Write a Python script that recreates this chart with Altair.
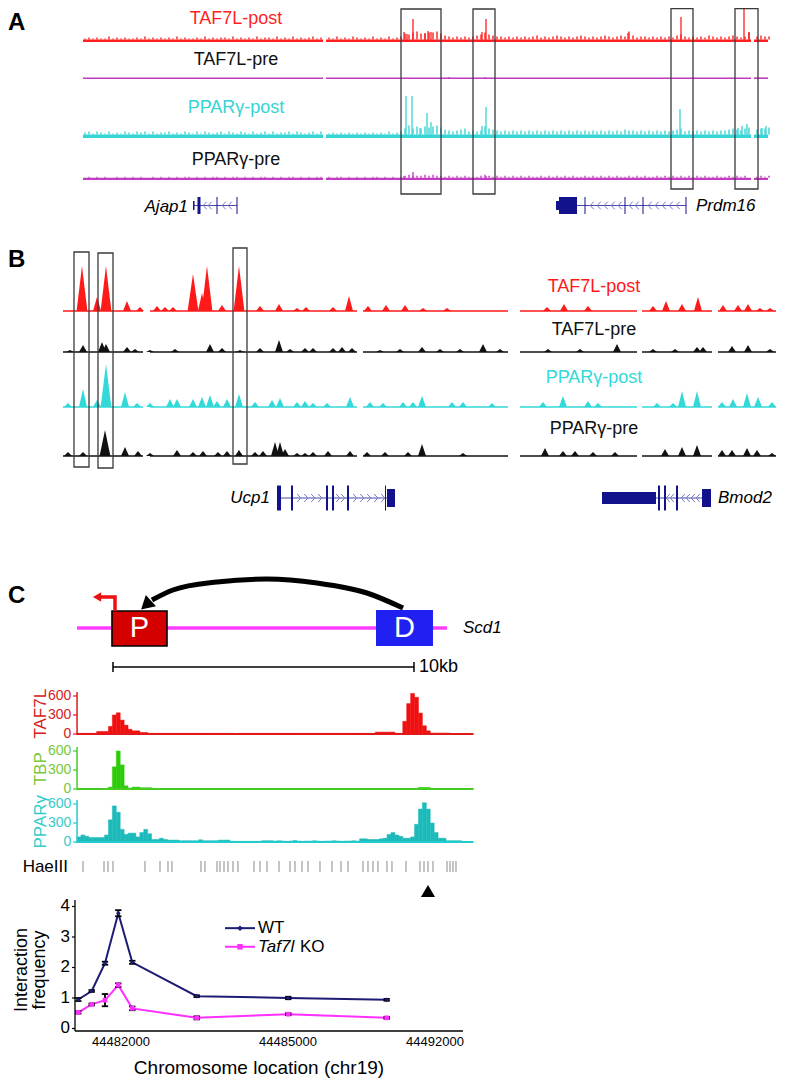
import altair as alt
import pandas as pd

FONT = "Liberation Sans"

# ============================== DATA ==============================
# ---------- Panel A : tracks between Ajap1 and Prdm16 (kb from left end of tracks) ----------
A_TRACKS = ["TAF7L-post", "TAF7L-pre", "PPARγ-post", "PPARγ-pre"]
A_SEGMENTS_START = [0, 486, 1342]
A_SEGMENTS_END = [480, 1336, 1370]
A_NOISE_STEP_KB = 8
A_NOISE = {
    "TAF7L-post": ("1212113121" "2112131212" "1213121121" "3121221312" "1213122131" "2131212312"
                   "0213121321" "2131213123" "6578667786" "4323232345" "7543323232" "3234232343"
                   "2323432323" "4323438423" "3232323245" "3232324323" "2343237034" "33"),
    "TAF7L-pre": "",
    "PPARγ-post": ("2313213121" "3213231312" "2312132131" "3212313213" "2131231312" "2313212313"
                   "0121212121" "2121213123" "6968687897" "5434563434" "8654343434" "3434343434"
                   "3434343434" "3434354434" "3434343456" "3434343434" "4565467056" "67"),
    "PPARγ-pre": ("0101010010" "1010100101" "0101011010" "1011010110" "1010110101" "0110101011"
                  "0101101010" "1011010101" "2322232322" "1212121112" "3212121212" "1211212121"
                  "2121121212" "1212112121" "2112121212" "1212121121" "1212120012" "12"),
}
A_PEAKS_POS = {
    "TAF7L-post": [642, 648, 660, 684, 690, 696, 798, 806, 1090, 1196, 1322, 1332],
    "TAF7L-pre": [732, 804],
    "PPARγ-post": [646, 658, 674, 688, 696, 798, 806, 1194, 1310, 1318, 1328, 1358, 1366],
    "PPARγ-pre": [642, 660, 806],
}
A_PEAKS_H = {
    "TAF7L-post": [10, 8, 23, 9, 11, 10, 10, 23, 9, 25, 33, 10],
    "TAF7L-pre": [2, 2],
    "PPARγ-post": [42, 42, 10, 25, 16, 12, 31, 29, 10, 12, 14, 10, 12],
    "PPARγ-pre": [4, 8, 4],
}
A_BOX_START = [636, 780, 1176, 1304]
A_BOX_END = [716, 824, 1220, 1350]
A_GENE_START = [220, 954]
A_GENE_END = [308, 1206]
A_EXON_START = [220, 229, 267, 307, 946, 952, 1003, 1083, 1119, 1205]
A_EXON_END = [223, 235, 269, 309, 952, 988, 1005, 1085, 1121, 1207]
A_EXON_KIND = ["thin", "thick", "thick", "thick", "thin", "thick", "thick", "thick", "thick", "thick"]
A_CHEVRON_POS = [244, 254, 282, 294, 1018, 1032, 1046, 1060, 1074, 1096, 1108, 1134, 1148, 1162, 1176, 1190]
A_GENE_LABEL = ["Ajap1", "Prdm16"]
A_GENE_LABEL_POS = [210, 1226]

# ---------- Panel B : Ucp1 / Bmod2 locus (kb from left end of tracks) ----------
B_TRACKS = ["TAF7L-post", "TAF7L-pre", "PPARγ-post", "PPARγ-pre"]
B_SEGMENTS_START = [0.05, 4.4, 15.05, 22.9, 29.0, 32.8]
B_SEGMENTS_END = [4.05, 14.75, 22.3, 28.75, 32.5, 35.7]
B_PEAKS_POS = {
    "TAF7L-post": [1.0, 1.75, 2.2, 3.25, 3.9, 4.75, 5.15, 5.55, 6.55, 7.0, 7.25, 8.0, 8.85, 9.9, 10.85,
                   11.75, 12.2, 13.55, 14.35, 15.3, 16.2, 17.15, 18.05, 19.25, 24.25, 25.1, 26.3, 29.55,
                   30.2, 31.0, 31.8, 33.05, 33.8, 34.3, 34.9, 35.4],
    "TAF7L-pre": [0.4, 1.05, 2.0, 2.2, 3.25, 3.65, 4.4, 5.65, 7.4, 8.0, 8.9, 9.9, 10.85, 11.4, 12.15, 12.55,
                  13.55, 14.0, 14.5, 15.9, 16.9, 18.0, 18.9, 19.9, 21.05, 21.9, 24.3, 25.9, 27.75, 29.55,
                  30.65, 31.75, 32.05, 33.5, 34.3, 35.4],
    "PPARγ-post": [0.3, 1.05, 1.75, 2.2, 3.15, 3.75, 4.4, 5.4, 5.75, 6.55, 7.0, 7.4, 7.75, 8.25, 8.85, 9.65,
                   10.5, 10.9, 11.75, 12.15, 12.55, 13.25, 14.4, 15.4, 16.05, 17.05, 17.55, 18.0, 19.5, 20.05,
                   21.5, 24.05, 25.05, 26.3, 26.8, 29.75, 30.55, 31.0, 31.75, 33.0, 33.55, 34.25, 34.8, 35.5],
    "PPARγ-pre": [0.3, 1.05, 2.15, 3.15, 3.8, 4.4, 5.75, 6.55, 7.05, 7.8, 8.25, 8.85, 9.65, 10.05, 10.65,
                  10.9, 11.15, 11.75, 12.15, 12.55, 13.3, 14.4, 15.25, 16.15, 17.3, 18.0, 20.05, 24.15, 25.05,
                  25.65, 26.55, 27.65, 30.15, 31.0, 31.75, 33.0, 33.5, 34.25, 34.75, 35.5],
}
B_PEAKS_H = {
    "TAF7L-post": [45, 14, 45, 10, 4, 5, 4, 4, 37, 18, 45, 6, 45, 5, 7, 3, 4, 4, 15, 5, 6, 6, 3, 3, 4, 7, 5,
                   5, 10, 7, 14, 6, 6, 7, 3, 3],
    "TAF7L-pre": [2, 7, 10, 8, 5, 3, 2, 3, 8, 4, 2, 4, 12, 3, 4, 4, 4, 5, 4, 2, 3, 5, 3, 3, 8, 3, 3, 3, 8, 3,
                  3, 5, 5, 6, 7, 3],
    "PPARγ-post": [4, 18, 7, 43, 15, 4, 4, 8, 8, 8, 10, 12, 6, 8, 13, 5, 7, 9, 5, 6, 4, 4, 10, 5, 4, 5, 5,
                   11, 5, 5, 4, 5, 11, 6, 4, 4, 4, 16, 16, 5, 8, 14, 10, 5],
    "PPARγ-pre": [4, 4, 26, 9, 5, 3, 6, 4, 5, 4, 5, 6, 4, 5, 14, 14, 7, 3, 3, 4, 5, 5, 4, 4, 4, 12, 3, 8, 5,
                  5, 4, 4, 7, 9, 11, 6, 6, 8, 6, 3],
}
B_BOX_START = [0.6, 1.8, 8.55]
B_BOX_END = [1.35, 2.55, 9.25]
B_GENE_START = [10.8, 29.7]
B_GENE_END = [16.65, 32.45]
B_EXON_START = [10.75, 11.45, 13.2, 13.5, 14.25, 16.15, 16.25, 27.0, 29.8, 30.1, 30.7, 32.0]
B_EXON_END = [10.95, 11.55, 13.3, 13.6, 14.35, 16.2, 16.65, 29.7, 29.9, 30.2, 30.8, 32.45]
B_EXON_KIND = ["tall", "tall", "tall", "tall", "tall", "tall", "block", "utr", "tall", "tall", "tall", "block"]
B_CHEVRON_RIGHT = [11.85, 12.2, 12.55, 12.9, 13.8, 14.05, 14.65, 15.0, 15.35, 15.7, 16.05]
B_CHEVRON_LEFT = [30.3, 30.5, 31.05, 31.3, 31.55, 31.8]
B_GENE_LABEL = ["Ucp1", "Bmod2"]
B_GENE_LABEL_POS = [10.4, 32.8]

# ---------- Panel C : Scd1 locus, chr19 (bp) ----------
C_LOCUS = [44480599, 44492383]
C_P_BOX = [44481713, 44483465]
C_D_BOX = [44490122, 44491937]
C_TSS = [44481809, 44481331]
C_TSS_HEAD = 44481236
C_LOOP_G = [44482987, 44483656, 44485058, 44486650, 44488243, 44489835, 44490982]
C_LOOP_HEAD = 44482796
C_SCALEBAR = [44481745, 44491332]
C_SCD1_POS = 44492893
C_SCALE_LABEL_POS = 44491491

C_BIN_START = 44480600
C_BIN_BP = 125
C_TAF7L = [10, 10, 10, 10, 10, 40, 40, 40, 120, 300, 335, 220, 140, 75, 50, 50, 25, 25,
           10, 10, 10, 10, 10, 10, 10, 10, 10, 10, 10, 10, 10, 10, 10, 10, 10, 10, 10, 10, 10, 10,
           0, 10, 10, 10, 10, 10, 10, 10, 10, 10, 10, 10, 10, 10, 10, 10, 10, 10, 10, 10, 10,
           10, 10, 10, 10, 10, 10, 10, 10, 10, 10, 10, 10, 10, 10, 10,
           30, 30, 30, 30, 30, 10, 10, 200, 480, 640, 580, 330, 130, 50,
           15, 15, 15, 15, 15, 0, 0, 0, 0, 0, 0]
C_TBP = [0, 0, 0, 0, 0, 0, 0, 0, 30, 350, 600, 380, 50, 10, 30, 30, 20, 20, 20, 10,
         3, 3, 3, 3, 3, 3, 3, 3, 3, 3, 3, 3, 3, 3, 3, 3, 3, 3, 3, 3, 3, 3, 3, 3, 3, 3, 3, 3, 3, 3,
         3, 3, 3, 3, 3, 3, 3, 3, 3, 3, 3, 3, 3, 3, 3, 3, 3, 3, 3, 3, 3, 3, 3, 3, 3, 3, 3, 3, 3, 3,
         3, 3, 3, 3, 3, 3, 3, 25, 25, 25, 3, 3, 3, 3, 3, 3, 3, 3, 3, 3, 3]
C_PPARG = [80, 110, 90, 70, 70, 70, 70, 110, 350, 570, 470, 200, 120, 140, 140, 80, 150, 200, 130,
           40, 40, 60, 40, 30, 30, 30, 20, 20, 20, 20, 20, 35, 20, 20, 20, 20, 30, 30, 30,
           10, 10, 10, 10, 10, 10, 10, 10, 20, 20, 20,
           15, 20, 15, 10, 15, 25, 15, 10, 15, 15, 20, 15, 10, 15, 15, 20, 15, 10, 15, 15, 20, 15,
           50, 50, 40, 40, 40, 50, 60, 120, 150, 110, 90, 60, 60, 80, 280, 520, 620, 520, 300, 150,
           60, 60, 20, 20, 20, 20, 0, 0, 0]
C_TRACK_END = C_BIN_START + C_BIN_BP * 101
C_TRACK_TICKS = [0, 300, 600]

HAEIII_SITES = [44480790, 44481459, 44481586, 44481745, 44482764, 44483242, 44483497, 44483624,
                44484548, 44484675, 44485058, 44485153, 44485281, 44485408, 44485567, 44485726,
                44486236, 44486427, 44486650, 44487032, 44487383, 44487542, 44487765, 44487956,
                44488338, 44488720, 44489007, 44489230, 44489708, 44489867, 44490026, 44490185,
                44490472, 44490631, 44491077, 44491523, 44491651, 44491778, 44491937, 44492383,
                44492479, 44492574, 44492670]
ANCHOR_POS = 44491778

LC_POS = [44480640, 44481067, 44481490, 44481914, 44482360, 44484411, 44487328, 44490462]
WT = [0.95, 1.23, 2.14, 3.78, 2.17, 1.06, 1.00, 0.94]
WT_ERR = [0.05, 0.03, 0.05, 0.10, 0.05, 0.03, 0.04, 0.03]
KO = [0.53, 0.79, 0.93, 1.42, 0.66, 0.35, 0.47, 0.35]
KO_ERR = [0.04, 0.03, 0.20, 0.06, 0.06, 0.05, 0.03, 0.03]
LC_Y_TICKS = [0, 1, 2, 3, 4]
LC_X_TICKS = [44482000, 44487320, 44492000]
LC_X_TICK_LABELS = ["44482000", "44485000", "44492000"]

# ============================== LAYOUT / STYLE ==============================
W = 769
A_H, B_H, CD_H, CT_H, HAE_H, LC_H = 214, 298, 172, 43, 57, 131
XA = alt.Scale(domain=[-150, 1388], nice=False, zero=False)
XB = alt.Scale(domain=[-2.7, 35.75], nice=False, zero=False)
XC_DOM = [44478401, 44502894]
XC = alt.Scale(domain=XC_DOM, nice=False, zero=False)
YA = alt.Scale(domain=[0, A_H], reverse=True, nice=False, zero=False)
YB = alt.Scale(domain=[0, B_H], reverse=True, nice=False, zero=False)
YD = alt.Scale(domain=[0, CD_H], reverse=True, nice=False, zero=False)
YH = alt.Scale(domain=[0, HAE_H], reverse=True, nice=False, zero=False)
YT_DOM = [-15.8, 663.2]
YT = alt.Scale(domain=YT_DOM, nice=False, zero=False)
LC_YDOM = [-0.082, 4.213]
YL = alt.Scale(domain=LC_YDOM, nice=False, zero=False)

RED, MAG, CYAN, BLACK = "#ff1f1f", "#c23ac2", "#36d4d4", "#111111"
NAVY, CHEV = "#12128c", "#7a7acb"
A_BASE = {"TAF7L-post": 34, "TAF7L-pre": 71, "PPARγ-post": 130, "PPARγ-pre": 172}
A_BAND = {"TAF7L-post": 2.5, "TAF7L-pre": 1.6, "PPARγ-post": 3.5, "PPARγ-pre": 2.2}
A_LABEL_Y = {"TAF7L-post": 11, "TAF7L-pre": 52, "PPARγ-post": 100, "PPARγ-pre": 152}
A_COLOR = {"TAF7L-post": RED, "TAF7L-pre": MAG, "PPARγ-post": CYAN, "PPARγ-pre": MAG}
A_TEXT_COLOR = {"TAF7L-post": RED, "TAF7L-pre": BLACK, "PPARγ-post": CYAN, "PPARγ-pre": BLACK}
A_LABEL_X = 306
A_BOX_TOP = [1, 1, 0.7, 0.7]
A_BOX_BOTTOM = [186, 186, 181, 181]
A_GENE_Y = 197.5
A_EXON_HALF = {"thin": 4.5, "thick": 8.5}

B_BASE = {"TAF7L-post": 89, "TAF7L-pre": 130, "PPARγ-post": 185, "PPARγ-pre": 234}
B_LABEL_Y = {"TAF7L-post": 65, "TAF7L-pre": 108, "PPARγ-post": 156, "PPARγ-pre": 207}
B_COLOR = {"TAF7L-post": "#ff1a1a", "TAF7L-pre": BLACK, "PPARγ-post": "#33d9d9", "PPARγ-pre": BLACK}
B_TEXT_COLOR = {"TAF7L-post": "#ff1a1a", "TAF7L-pre": BLACK, "PPARγ-post": "#33d9d9", "PPARγ-pre": BLACK}
B_LABEL_X = 26.6
B_BOX_TOP = [30, 31, 26]
B_BOX_BOTTOM = [245, 246, 242]
B_GENE_Y = 276
B_EXON_HALF = {"tall": 12.5, "block": 9, "utr": 6}

# hand-drawn axis geometry for panel C (genomic x positions left of the tracks)
C_TICK_X0 = 44480471
C_TICK_LABEL_X = 44480420
C_TITLE_X = 44479452
C_TITLE_V = 320
LC_AXIS_X = 44480535
LC_AXIS_X_END = 44492892
LC_TICK_X0 = 44480439
LC_TICK_LABEL_X = 44480376
LC_YTITLE_X = [44478847, 44479420]
LC_YTITLE_V = 1.92
LC_XLABEL_V = -0.44
LC_XTITLE_X = 44486395
LC_XTITLE_V = -1.30


def X(f, sc):
    return alt.X(f"{f}:Q", scale=sc, axis=None)


def Y(f, sc):
    return alt.Y(f"{f}:Q", scale=sc, axis=None, stack=None)


COL = alt.Color("c:N", scale=None)


def text_layer(rows, xs, ys, **kw):
    kw.setdefault("baseline", "middle")
    return alt.Chart(pd.DataFrame(rows)).mark_text(font=FONT, **kw).encode(
        x=X("x", xs), y=Y("y", ys), text="t:N", color=COL)


CHEV_LEFT = "M0.45,-1L-0.45,0L0.45,1"
CHEV_RIGHT = "M-0.45,-1L0.45,0L-0.45,1"

# ============================== PANEL A ==============================
a_band, a_noise, a_peak, a_lab = [], [], [], []
for t in A_TRACKS:
    base, band, col = A_BASE[t], A_BAND[t], A_COLOR[t]
    for s, e in zip(A_SEGMENTS_START, A_SEGMENTS_END):
        a_band.append({"x0": s, "x1": e, "y0": base - band, "y1": base, "c": col})
    for i, ch in enumerate(A_NOISE[t]):
        h = int(ch)
        if h:
            a_noise.append({"x": i * A_NOISE_STEP_KB + A_NOISE_STEP_KB / 2, "y0": base - band,
                            "y1": base - band - h, "c": col})
    for p, h in zip(A_PEAKS_POS[t], A_PEAKS_H[t]):
        a_peak.append({"x": p, "y0": base - band / 2, "y1": base - h, "c": col})
    a_lab.append({"x": A_LABEL_X, "y": A_LABEL_Y[t], "t": t, "c": A_TEXT_COLOR[t]})

a_boxes = pd.DataFrame({"x0": A_BOX_START, "x1": A_BOX_END, "y0": A_BOX_TOP, "y1": A_BOX_BOTTOM})
a_exons = pd.DataFrame({"x0": A_EXON_START, "x1": A_EXON_END,
                        "y0": [A_GENE_Y - A_EXON_HALF[k] for k in A_EXON_KIND],
                        "y1": [A_GENE_Y + A_EXON_HALF[k] for k in A_EXON_KIND]})
a_introns = pd.DataFrame({"x0": A_GENE_START, "x1": A_GENE_END, "y": [A_GENE_Y] * 2})
a_chev = pd.DataFrame({"x": A_CHEVRON_POS, "y": [A_GENE_Y] * len(A_CHEVRON_POS)})

panelA = alt.layer(
    alt.Chart(pd.DataFrame(a_band)).mark_rect().encode(x=X("x0", XA), x2="x1", y=Y("y0", YA), y2="y1", color=COL),
    alt.Chart(pd.DataFrame(a_noise)).mark_rule(strokeWidth=1.4).encode(x=X("x", XA), y=Y("y0", YA), y2="y1", color=COL),
    alt.Chart(pd.DataFrame(a_peak)).mark_rule(strokeWidth=1.3).encode(x=X("x", XA), y=Y("y0", YA), y2="y1", color=COL),
    text_layer(a_lab, XA, YA, fontSize=18, align="center"),
    text_layer([{"x": -150, "y": 15, "t": "A", "c": "#000"}], XA, YA, fontSize=24, fontWeight="bold", align="left"),
    alt.Chart(a_boxes).mark_rect(fillOpacity=0, stroke="#3a3a3a", strokeWidth=1.3).encode(
        x=X("x0", XA), x2="x1", y=Y("y0", YA), y2="y1"),
    alt.Chart(a_introns).mark_rule(color="#4a4aa8", strokeWidth=1).encode(x=X("x0", XA), x2="x1", y=Y("y", YA)),
    alt.Chart(a_chev).mark_point(shape=CHEV_LEFT, filled=False, color=CHEV, strokeWidth=1, size=60, opacity=1).encode(
        x=X("x", XA), y=Y("y", YA)),
    alt.Chart(a_exons).mark_rect(color=NAVY).encode(x=X("x0", XA), x2="x1", y=Y("y0", YA), y2="y1"),
    text_layer([{"x": A_GENE_LABEL_POS[0], "y": A_GENE_Y + 1, "t": A_GENE_LABEL[0], "c": "#000"}], XA, YA,
               fontSize=17, fontStyle="italic", align="right"),
    text_layer([{"x": A_GENE_LABEL_POS[1], "y": A_GENE_Y, "t": A_GENE_LABEL[1], "c": "#000"}], XA, YA,
               fontSize=17, fontStyle="italic", align="left"),
).properties(width=W, height=A_H)

# ============================== PANEL B ==============================
b_base, b_area, b_lab = [], [], []
pid = 0
for t in B_TRACKS:
    base, col = B_BASE[t], B_COLOR[t]
    for s, e in zip(B_SEGMENTS_START, B_SEGMENTS_END):
        b_base.append({"x0": s, "x1": e, "y": base, "c": col})
    for p, h in zip(B_PEAKS_POS[t], B_PEAKS_H[t]):
        hw = 0.27 if h >= 20 else 0.2
        for dx, dh in ((-hw, 0), (0, h), (hw, 0)):
            b_area.append({"x": p + dx, "y": base - dh, "b": base, "pid": pid, "c": col})
        pid += 1
    b_lab.append({"x": B_LABEL_X, "y": B_LABEL_Y[t], "t": t, "c": B_TEXT_COLOR[t]})

b_boxes = pd.DataFrame({"x0": B_BOX_START, "x1": B_BOX_END, "y0": B_BOX_TOP, "y1": B_BOX_BOTTOM})
b_exons = pd.DataFrame({"x0": B_EXON_START, "x1": B_EXON_END,
                        "y0": [B_GENE_Y - B_EXON_HALF[k] for k in B_EXON_KIND],
                        "y1": [B_GENE_Y + B_EXON_HALF[k] for k in B_EXON_KIND]})
b_introns = pd.DataFrame({"x0": B_GENE_START, "x1": B_GENE_END, "y": [B_GENE_Y] * 2})
b_chev_r = pd.DataFrame({"x": B_CHEVRON_RIGHT, "y": [B_GENE_Y] * len(B_CHEVRON_RIGHT)})
b_chev_l = pd.DataFrame({"x": B_CHEVRON_LEFT, "y": [B_GENE_Y] * len(B_CHEVRON_LEFT)})

panelB = alt.layer(
    alt.Chart(pd.DataFrame(b_base)).mark_rule(strokeWidth=1.3).encode(x=X("x0", XB), x2="x1", y=Y("y", YB), color=COL),
    alt.Chart(pd.DataFrame(b_area)).mark_area(interpolate="linear").encode(
        x=X("x", XB), y=Y("y", YB), y2="b", detail="pid:N", color=COL),
    text_layer(b_lab, XB, YB, fontSize=18, align="center"),
    text_layer([{"x": -2.7, "y": 38, "t": "B", "c": "#000"}], XB, YB, fontSize=24, fontWeight="bold", align="left"),
    alt.Chart(b_boxes).mark_rect(fillOpacity=0, stroke="#3a3a3a", strokeWidth=1.3).encode(
        x=X("x0", XB), x2="x1", y=Y("y0", YB), y2="y1"),
    alt.Chart(b_introns).mark_rule(color="#4a4aa8", strokeWidth=1).encode(x=X("x0", XB), x2="x1", y=Y("y", YB)),
    alt.Chart(b_chev_r).mark_point(shape=CHEV_RIGHT, filled=False, color=CHEV, strokeWidth=1, size=64, opacity=1).encode(
        x=X("x", XB), y=Y("y", YB)),
    alt.Chart(b_chev_l).mark_point(shape=CHEV_LEFT, filled=False, color=CHEV, strokeWidth=1, size=64, opacity=1).encode(
        x=X("x", XB), y=Y("y", YB)),
    alt.Chart(b_exons).mark_rect(color=NAVY).encode(x=X("x0", XB), x2="x1", y=Y("y0", YB), y2="y1"),
    text_layer([{"x": B_GENE_LABEL_POS[0], "y": B_GENE_Y, "t": B_GENE_LABEL[0], "c": "#000"}], XB, YB,
               fontSize=17, fontStyle="italic", align="right"),
    text_layer([{"x": B_GENE_LABEL_POS[1], "y": B_GENE_Y, "t": B_GENE_LABEL[1], "c": "#000"}], XB, YB,
               fontSize=17, fontStyle="italic", align="left"),
).properties(width=W, height=B_H)

# ============================== PANEL C : diagram ==============================
CD_LOCUS_Y = 108
CD_BOX_TOP, CD_BOX_BOTTOM = 91, 126
CD_TSS_U = [91, 77]
CD_LOOP_U = [80, 70, 62, 59, 63, 73, 88]
CD_LOOP_HEAD_U = 85
CD_SCALE_U, CD_SCALE_TICK = 147, 5

locus = pd.DataFrame({"x0": [C_LOCUS[0]], "x1": [C_LOCUS[1]], "y": [CD_LOCUS_Y]})
pbox = pd.DataFrame({"x0": [C_P_BOX[0]], "x1": [C_P_BOX[1]], "y0": [CD_BOX_TOP], "y1": [CD_BOX_BOTTOM]})
dbox = pd.DataFrame({"x0": [C_D_BOX[0]], "x1": [C_D_BOX[1]], "y0": [CD_BOX_TOP - 1], "y1": [CD_BOX_BOTTOM]})
tss = pd.DataFrame({"x": [C_TSS[0], C_TSS[0], C_TSS[1]], "y": [CD_TSS_U[0], CD_TSS_U[1], CD_TSS_U[1]], "i": [0, 1, 2]})
loop = pd.DataFrame({"x": C_LOOP_G, "y": CD_LOOP_U})
scalebar = pd.DataFrame({"x0": [C_SCALEBAR[0]], "x1": [C_SCALEBAR[1]], "y": [CD_SCALE_U]})
scaleticks = pd.DataFrame({"x": C_SCALEBAR, "y0": [CD_SCALE_U - CD_SCALE_TICK] * 2, "y1": [CD_SCALE_U + CD_SCALE_TICK] * 2})

panelCD = alt.layer(
    text_layer([{"x": XC_DOM[0], "y": 76, "t": "C", "c": "#000"}], XC, YD, fontSize=24, fontWeight="bold", align="left"),
    alt.Chart(locus).mark_rule(color="#ff3cff", strokeWidth=3.5).encode(x=X("x0", XC), x2="x1", y=Y("y", YD)),
    alt.Chart(pbox).mark_rect(color="#d40000", stroke="#000000", strokeWidth=1.6).encode(
        x=X("x0", XC), x2="x1", y=Y("y0", YD), y2="y1"),
    alt.Chart(dbox).mark_rect(color="#2020f2").encode(x=X("x0", XC), x2="x1", y=Y("y0", YD), y2="y1"),
    text_layer([{"x": (C_P_BOX[0] + C_P_BOX[1]) / 2, "y": CD_LOCUS_Y, "t": "P", "c": "#ffffff"},
                {"x": (C_D_BOX[0] + C_D_BOX[1]) / 2, "y": CD_LOCUS_Y, "t": "D", "c": "#ffffff"}],
               XC, YD, fontSize=29, align="center"),
    alt.Chart(tss).mark_line(color="#ee1111", strokeWidth=3.5).encode(
        x=X("x", XC), y=Y("y", YD), order=alt.Order("i:Q")),
    alt.Chart(pd.DataFrame({"x": [C_TSS_HEAD], "y": [CD_TSS_U[1]]})).mark_point(
        shape="triangle-up", angle=270, filled=True, color="#ee1111", size=90, opacity=1).encode(
        x=X("x", XC), y=Y("y", YD)),
    alt.Chart(loop).mark_line(color="#000000", strokeWidth=5, interpolate="monotone").encode(
        x=X("x", XC), y=Y("y", YD)),
    alt.Chart(pd.DataFrame({"x": [C_LOOP_HEAD], "y": [CD_LOOP_HEAD_U]})).mark_point(
        shape="triangle-up", angle=228, filled=True, color="#000000", size=230, opacity=1).encode(
        x=X("x", XC), y=Y("y", YD)),
    text_layer([{"x": C_SCD1_POS, "y": CD_LOCUS_Y, "t": "Scd1", "c": "#000"}], XC, YD,
               fontSize=17, fontStyle="italic", align="left"),
    alt.Chart(scalebar).mark_rule(color="#000", strokeWidth=1.5).encode(x=X("x0", XC), x2="x1", y=Y("y", YD)),
    alt.Chart(scaleticks).mark_rule(color="#000", strokeWidth=1.5).encode(x=X("x", XC), y=Y("y0", YD), y2="y1"),
    text_layer([{"x": C_SCALE_LABEL_POS, "y": CD_SCALE_U, "t": "10kb", "c": "#000"}], XC, YD,
               fontSize=18, align="left"),
).properties(width=W, height=CD_H)


# ============================== PANEL C : signal tracks ==============================
def c_track(values, bar_color, axis_color, label_color, title):
    df = pd.DataFrame({"g0": [C_BIN_START + C_BIN_BP * i for i in range(len(values))],
                       "g1": [C_BIN_START + C_BIN_BP * (i + 1) for i in range(len(values))],
                       "v": values, "z": [0] * len(values)})
    axis_df = pd.DataFrame({"x0": [C_BIN_START], "x1": [C_TRACK_END], "v": [0],
                            "lo": [YT_DOM[0]], "hi": [YT_DOM[1]]})
    ticks = pd.DataFrame({"v": C_TRACK_TICKS, "t": [str(v) for v in C_TRACK_TICKS],
                          "x0": [C_TICK_X0] * 3, "x1": [C_BIN_START] * 3, "xl": [C_TICK_LABEL_X] * 3})
    bars = alt.Chart(df).mark_rect(color=bar_color, stroke=bar_color, strokeWidth=0.5).encode(
        x=X("g0", XC), x2="g1", y=Y("v", YT), y2="z")
    base = alt.Chart(axis_df).mark_rule(color=axis_color, strokeWidth=1.8).encode(
        x=X("x0", XC), x2="x1", y=Y("v", YT))
    dom = alt.Chart(axis_df).mark_rule(color=axis_color, strokeWidth=1.5).encode(
        x=X("x0", XC), y=Y("lo", YT), y2="hi")
    tk = alt.Chart(ticks).mark_rule(color=axis_color, strokeWidth=1.2).encode(
        x=X("x0", XC), x2="x1", y=Y("v", YT))
    lab = alt.Chart(ticks).mark_text(font=FONT, fontSize=14, align="right", baseline="middle",
                                     color=label_color).encode(x=X("xl", XC), y=Y("v", YT), text="t:N")
    ttl = alt.Chart(pd.DataFrame({"x": [C_TITLE_X], "v": [C_TITLE_V], "t": [title]})).mark_text(
        font=FONT, fontSize=17, angle=270, align="center", baseline="middle", color=label_color).encode(
        x=X("x", XC), y=Y("v", YT), text="t:N")
    return alt.layer(bars, base, dom, tk, lab, ttl).properties(width=W, height=CT_H)


trTAF = c_track(C_TAF7L, "#f01010", "#e01818", "#d42020", "TAF7L")
trTBP = c_track(C_TBP, "#2ccc0a", "#44cc22", "#77c93a", "TBP")
trPPG = c_track(C_PPARG, "#1cbaba", "#22cccc", "#33cccc", "PPARγ")


def spacer(h):
    return alt.Chart(pd.DataFrame({"z": [0]})).mark_point(opacity=0).encode(
        x=alt.X("z:Q", axis=None), y=alt.Y("z:Q", axis=None)).properties(width=W, height=h)


# ============================== HaeIII row ==============================
HAE_TICK = [18, 29]
HAE_LABEL_X = 44480312
hae = pd.DataFrame({"x": HAEIII_SITES, "y0": [HAE_TICK[0]] * len(HAEIII_SITES), "y1": [HAE_TICK[1]] * len(HAEIII_SITES)})
rowHae = alt.layer(
    alt.Chart(hae).mark_rule(color="#8a8a8a", strokeWidth=1).encode(x=X("x", XC), y=Y("y0", YH), y2="y1"),
    text_layer([{"x": HAE_LABEL_X, "y": 23.5, "t": "HaeIII", "c": "#000"}], XC, YH, fontSize=17, align="right"),
    alt.Chart(pd.DataFrame({"x": [ANCHOR_POS], "y": [48]})).mark_point(
        shape="triangle-up", filled=True, color="#000", size=200, opacity=1).encode(x=X("x", XC), y=Y("y", YH)),
).properties(width=W, height=HAE_H)

# ============================== 3C line chart ==============================
NAVY_L, PINK = "#1c1c74", "#ff30ff"
lc = pd.DataFrame({"g": LC_POS + LC_POS, "v": WT + KO, "e": WT_ERR + KO_ERR,
                   "s": ["WT"] * len(WT) + ["KO"] * len(KO)})
lc["lo"] = lc["v"] - lc["e"]
lc["hi"] = lc["v"] + lc["e"]
SER = alt.Scale(domain=["WT", "KO"], range=[NAVY_L, PINK])
SHP = alt.Scale(domain=["WT", "KO"], range=["diamond", "square"])

LEG_Y = {"WT": 3.29, "KO": 2.68}
LEG_X = [44485312, 44486268]
LEG_MARK = 44485790
LEG_TEXT = 44486363
LEG_KO_TEXT = 44487700
leg = pd.DataFrame({"s": ["WT", "KO"], "y": [LEG_Y["WT"], LEG_Y["KO"]],
                    "x0": [LEG_X[0]] * 2, "x1": [LEG_X[1]] * 2, "xm": [LEG_MARK] * 2})

lc_axes = pd.DataFrame({"x0": [LC_AXIS_X], "x1": [LC_AXIS_X_END], "lo": [LC_YDOM[0]], "hi": [LC_YDOM[1]]})
yt = pd.DataFrame({"v": LC_Y_TICKS, "t": [str(v) for v in LC_Y_TICKS],
                   "x0": [LC_TICK_X0] * 5, "x1": [LC_AXIS_X] * 5, "xl": [LC_TICK_LABEL_X] * 5})
xt = pd.DataFrame({"x": LC_X_TICKS, "t": LC_X_TICK_LABELS, "y": [LC_XLABEL_V] * 3})
ytitle = pd.DataFrame({"x": LC_YTITLE_X, "y": [LC_YTITLE_V] * 2, "t": ["Interaction", "frequency"]})


def lc_text(df, **kw):
    return alt.Chart(df).mark_text(font=FONT, baseline="middle", color="#000", **kw).encode(
        x=X("x", XC), y=Y("y", YL), text="t:N")


rowLC = alt.layer(
    alt.Chart(lc).mark_line(strokeWidth=2).encode(
        x=X("g", XC), y=Y("v", YL), color=alt.Color("s:N", scale=SER, legend=None)),
    alt.Chart(lc).mark_rule(color="#000", strokeWidth=1.8).encode(x=X("g", XC), y=Y("lo", YL), y2="hi"),
    alt.Chart(lc).mark_point(shape="M-1,0L1,0", filled=False, color="#000", strokeWidth=1.8, size=40, opacity=1).encode(
        x=X("g", XC), y=Y("lo", YL)),
    alt.Chart(lc).mark_point(shape="M-1,0L1,0", filled=False, color="#000", strokeWidth=1.8, size=40, opacity=1).encode(
        x=X("g", XC), y=Y("hi", YL)),
    alt.Chart(lc).mark_point(filled=True, size=22, opacity=1).encode(
        x=X("g", XC), y=Y("v", YL), color=alt.Color("s:N", scale=SER, legend=None),
        shape=alt.Shape("s:N", scale=SHP, legend=None)),
    # hand-drawn axes
    alt.Chart(lc_axes).mark_rule(color="#000", strokeWidth=1.3).encode(
        x=X("x0", XC), x2="x1", y=Y("lo", YL)),
    alt.Chart(lc_axes).mark_rule(color="#000", strokeWidth=1.3).encode(
        x=X("x0", XC), y=Y("lo", YL), y2="hi"),
    alt.Chart(yt).mark_rule(color="#000", strokeWidth=1.2).encode(x=X("x0", XC), x2="x1", y=Y("v", YL)),
    alt.Chart(yt).mark_text(font=FONT, fontSize=17, align="right", baseline="middle", color="#000").encode(
        x=X("xl", XC), y=Y("v", YL), text="t:N"),
    lc_text(xt, fontSize=13, align="center"),
    lc_text(ytitle, fontSize=18, align="center", angle=270),
    lc_text(pd.DataFrame({"x": [LC_XTITLE_X], "y": [LC_XTITLE_V], "t": ["Chromosome location (chr19)"]}),
            fontSize=19, align="center"),
    # legend
    alt.Chart(leg).mark_rule(strokeWidth=2).encode(
        x=X("x0", XC), x2="x1", y=Y("y", YL), color=alt.Color("s:N", scale=SER, legend=None)),
    alt.Chart(leg).mark_point(filled=True, size=30, opacity=1).encode(
        x=X("xm", XC), y=Y("y", YL), color=alt.Color("s:N", scale=SER, legend=None),
        shape=alt.Shape("s:N", scale=SHP, legend=None)),
    lc_text(pd.DataFrame({"x": [LEG_TEXT], "y": [LEG_Y["WT"]], "t": ["WT"]}), fontSize=17, align="left"),
    lc_text(pd.DataFrame({"x": [LEG_TEXT], "y": [LEG_Y["KO"]], "t": ["Taf7l"]}), fontSize=17, align="left",
            fontStyle="italic"),
    lc_text(pd.DataFrame({"x": [LEG_KO_TEXT], "y": [LEG_Y["KO"]], "t": ["KO"]}), fontSize=17, align="left"),
).properties(width=W, height=LC_H)

chart = alt.vconcat(
    panelA, panelB, panelCD, trTAF, spacer(12), trTBP, spacer(10), trPPG, rowHae, rowLC,
    spacing=0, bounds="flush", padding=0, background="white",
).configure_view(stroke=None)

chart.save("out.html", embed_options={"renderer": "svg", "actions": False})
